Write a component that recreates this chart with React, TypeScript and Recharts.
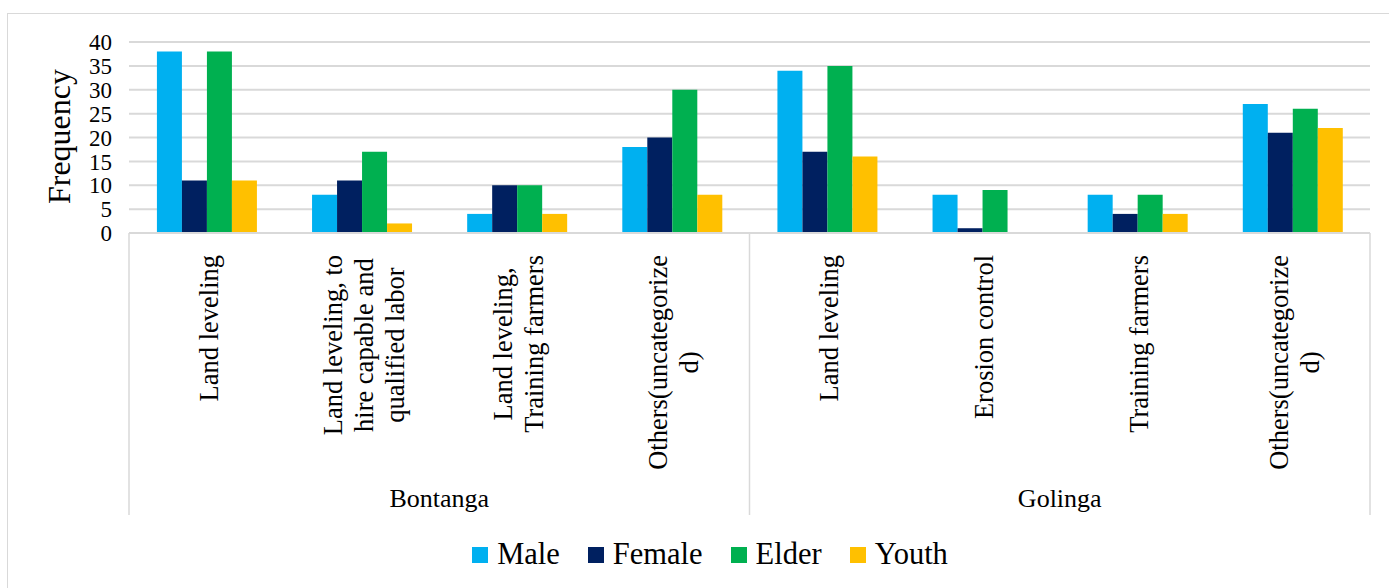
import React from 'react'
import { BarChart, Bar, XAxis, YAxis, CartesianGrid, Label } from 'recharts'

const regions = ['Bontanga', 'Bontanga', 'Bontanga', 'Bontanga', 'Golinga', 'Golinga', 'Golinga', 'Golinga']
const practices = [
  'Land leveling',
  'Land leveling, to\nhire capable and\nqualified labor',
  'Land leveling,\nTraining farmers',
  'Others(uncategorize\nd)',
  'Land leveling',
  'Erosion control',
  'Training farmers',
  'Others(uncategorize\nd)',
]
const male = [38, 8, 4, 18, 34, 8, 8, 27]
const female = [11, 11, 10, 20, 17, 1, 4, 21]
const elder = [38, 17, 10, 30, 35, 9, 8, 26]
const youth = [11, 2, 4, 8, 16, 0, 4, 22]
const yTicks = [0, 5, 10, 15, 20, 25, 30, 35, 40]

const series = [
  { key: 'Male', values: male, color: '#00B0F0' },
  { key: 'Female', values: female, color: '#002060' },
  { key: 'Elder', values: elder, color: '#00B050' },
  { key: 'Youth', values: youth, color: '#FFC000' },
]

const W = 1389
const H = 588
const PLOT_L = 129
const PLOT_R = 1370
const PLOT_T = 42
const PLOT_B = 233
const Y_AXIS_W = 40
const X_AXIS_H = 300
const FONT = 'Liberation Serif'
const CAT_FONT_SIZE = 26.5
const LINE_COLOR = '#d9d9d9'

const data = practices.map((p, i) => {
  const row: Record<string, string | number> = { id: `${regions[i]}-${i}`, practice: p, region: regions[i] }
  series.forEach((s) => {
    row[s.key] = s.values[i]
  })
  return row
})

const band = (PLOT_R - PLOT_L) / practices.length

let ctx: CanvasRenderingContext2D | null = null
function measure(text: string, size: number) {
  if (!ctx) {
    ctx = document.createElement('canvas').getContext('2d')
  }
  if (!ctx) return text.length * size * 0.45
  ctx.font = `${size}px "${FONT}"`
  return ctx.measureText(text).width
}

function CategoryTick(props: any) {
  const { x, y, index } = props
  const lines = practices[index].split('\n')
  const n = lines.length
  const top = y + 22
  const longest = Math.max(...lines.map((l) => measure(l, CAT_FONT_SIZE)))
  const mid = top + longest / 2
  const region = regions[index]
  const isFirst = index === 0 || regions[index - 1] !== region
  const isLast = index === practices.length - 1
  const groupCount = regions.filter((r) => r === region).length
  return (
    <g>
      {lines.map((line, i) => {
        const lx = x + (i - (n - 1) / 2) * 31 + 11
        return (
          <text
            key={i}
            x={lx}
            y={mid}
            transform={`rotate(-90, ${lx}, ${mid})`}
            textAnchor="middle"
            fontFamily={FONT}
            fontSize={CAT_FONT_SIZE}
            fill="#000"
          >
            {line}
          </text>
        )
      })}
      {isFirst && (
        <>
          <line x1={x - band / 2} x2={x - band / 2} y1={y} y2={y + 282} stroke={LINE_COLOR} strokeWidth={1.5} />
          <text
            x={x - band / 2 + (groupCount * band) / 2}
            y={y + 274}
            textAnchor="middle"
            fontFamily={FONT}
            fontSize={26}
            fill="#000"
          >
            {region}
          </text>
        </>
      )}
      {isLast && (
        <line x1={x + band / 2} x2={x + band / 2} y1={y} y2={y + 282} stroke={LINE_COLOR} strokeWidth={1.5} />
      )}
    </g>
  )
}

function YLabel(props: any) {
  const { viewBox } = props
  const cx = viewBox.x - 19
  const cy = viewBox.y + viewBox.height / 2 - 1
  return (
    <text
      x={cx}
      y={cy}
      transform={`rotate(-90, ${cx}, ${cy})`}
      textAnchor="middle"
      fontFamily={FONT}
      fontSize={32}
      fill="#000"
    >
      Frequency
    </text>
  )
}

export default function App() {
  return (
    <div style={{ position: 'absolute', left: 0, top: 0, width: W, height: H, background: '#fff', overflow: 'hidden' }}>
      <div
        style={{
          position: 'absolute',
          left: 7,
          top: 13,
          width: W,
          height: H,
          borderLeft: `1.5px solid ${LINE_COLOR}`,
          borderTop: `1.5px solid ${LINE_COLOR}`,
        }}
      />
      <div style={{ position: 'absolute', left: 0, top: 0 }}>
        <BarChart
          width={W}
          height={H}
          data={data}
          margin={{ top: PLOT_T, right: W - PLOT_R, left: PLOT_L - Y_AXIS_W, bottom: H - PLOT_B - X_AXIS_H }}
          barCategoryGap="18%"
          barGap={0}
        >
          <CartesianGrid vertical={false} stroke={LINE_COLOR} strokeWidth={2} />
          <XAxis
            dataKey="id"
            interval={0}
            height={X_AXIS_H}
            tickLine={false}
            tickSize={0}
            tickMargin={0}
            axisLine={{ stroke: LINE_COLOR, strokeWidth: 2 }}
            tick={<CategoryTick />}
          />
          <YAxis
            width={Y_AXIS_W}
            domain={[0, 40]}
            ticks={yTicks}
            interval={0}
            axisLine={false}
            tickLine={false}
            tickSize={6}
            tickMargin={11}
            tick={{ fill: '#000', fontSize: 23, fontFamily: FONT }}
          >
            <Label content={<YLabel />} />
          </YAxis>
          {series.map((s) => (
            <Bar key={s.key} dataKey={s.key} fill={s.color} isAnimationActive={false} />
          ))}
        </BarChart>
      </div>
      <div
        style={{
          position: 'absolute',
          left: 0,
          width: 1420,
          top: 537,
          display: 'flex',
          justifyContent: 'center',
          gap: 28,
          fontFamily: FONT,
          fontSize: 30.5,
          color: '#000',
        }}
      >
        {series.map((s) => (
          <div key={s.key} style={{ display: 'flex', alignItems: 'center' }}>
            <span style={{ display: 'inline-block', width: 16, height: 16, background: s.color, marginRight: 9 }} />
            <span>{s.key}</span>
          </div>
        ))}
      </div>
    </div>
  )
}
